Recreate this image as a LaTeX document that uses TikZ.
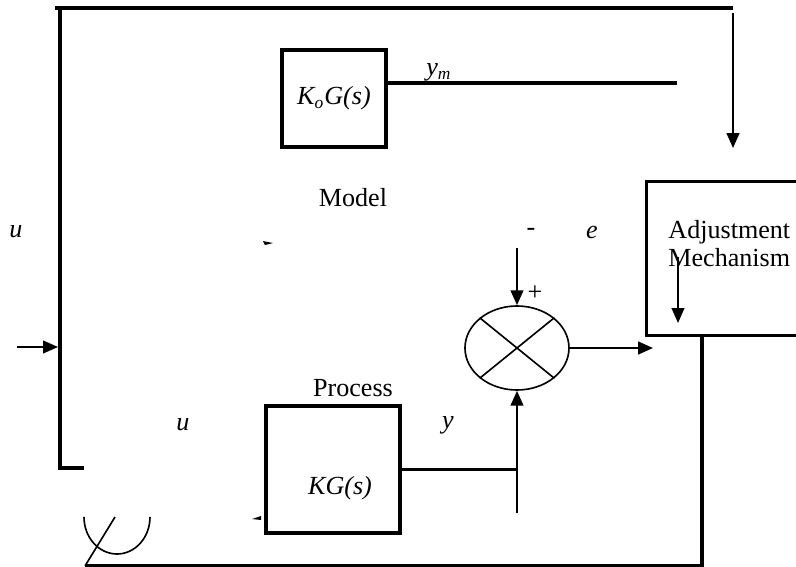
\documentclass[tikz,border=0pt]{standalone}
\usepackage{fontspec}
\setmainfont{Liberation Serif}
\usetikzlibrary{positioning}
\usetikzlibrary{shapes.geometric}
\usetikzlibrary{arrows.meta}
\tikzset{>={Triangle[length=6.8pt,width=5.8pt]}}
\newcommand{\pxu}{0.46pt}
\tikzset{
  blk/.style={draw, rectangle, line width=1.4pt, inner sep=0pt},
  sig/.style={line width=1.4pt},
  mid/.style={line width=0.95pt},
  fine/.style={line width=0.75pt},
  lbl/.style={inner sep=0pt}
}

\begin{document}
\begin{tikzpicture}[x=\pxu, y=-\pxu, font=\fontsize{12}{12.9}\selectfont]
		\useasboundingbox (0,0) rectangle (796,567);
		\node[blk, minimum width=104*\pxu, minimum height=97*\pxu] (model) at (334,98.5) {\textit{K\textsubscript{o}G(s)}};
		\node[blk, minimum width=134*\pxu, minimum height=127*\pxu] (proc) at (333,469.5) {};
		\node[blk, minimum width=185*\pxu, minimum height=154*\pxu, anchor=north west] (adj) at (645,180) {};
		\node[draw, ellipse, fine, inner sep=0pt, minimum width=104*\pxu, minimum height=84*\pxu] (sum) at (517,348) {};
		\coordinate (ymend) at (677,83);
		\coordinate (ytop) at (517,248);
		\coordinate (ybot) at (517,513);
		\coordinate (fb) at (702,566);
		\coordinate (arcl) at (84,517);
		\node[lbl] (kgtxt) at (340,488) {\textit{KG(s)}};
		\node[lbl, align=left, anchor=west] (adjtxt) at (668,244) {Adjustment\\Mechanism};
		\node[lbl] (modeltxt) at (353,198) {Model};
		\node[lbl] (proctxt) at (353,388) {Process};
		\node[lbl] (ym) at (439,72) {\textit{y\textsubscript{m}}};
		\node[lbl] (uin) at (16,232) {\textit{u}};
		\node[lbl] (uproc) at (183,425) {\textit{u}};
		\node[lbl] (y) at (448,425) {\textit{y}};
		\node[lbl] (minus) at (531,232) {-};
		\node[lbl] (e) at (592,232) {\textit{e}};
		\node[lbl] (plus) at (535,293) {+};
		\begin{scope}
		  \draw[sig] (84,468) -- (60,468) -- (60,8);
		  \draw[sig] (55,8) -- (733,8);
		  \draw[mid,->] (733,13) -- (733,148);
		  \draw[fine,->] (17,347) -- (58,347);
		  \draw[sig] (model.east |- ymend) -- (ymend);
		  \draw[fine] (sum.north west) -- (sum.south east) (sum.north east) -- (sum.south west);
		  \draw[mid,->] (ytop) -- (sum.north);
		  \draw[sig] (proc.east) -- (proc.east -| ybot);
		  \draw[mid,->] (ybot) -- (sum.south);
		  \draw[mid,->] (sum.east) -- (653,348);
		  \draw[fine,->] (678,257) -- (678,323);
		  \draw[sig] (fb |- adj.south) -- (fb) -- (85,566);
		  \draw[fine] (85,566) -- (115,517);
		  \draw[fine] (arcl) arc[start angle=180, end angle=360, x radius=33*\pxu, y radius=37*\pxu];
		  \fill (263,241) -- (273,243) -- (265,245) -- cycle;
		  \fill (252,519) -- (261,516) -- (261,520) -- cycle;
		\end{scope}
	\end{tikzpicture}
\end{document}
